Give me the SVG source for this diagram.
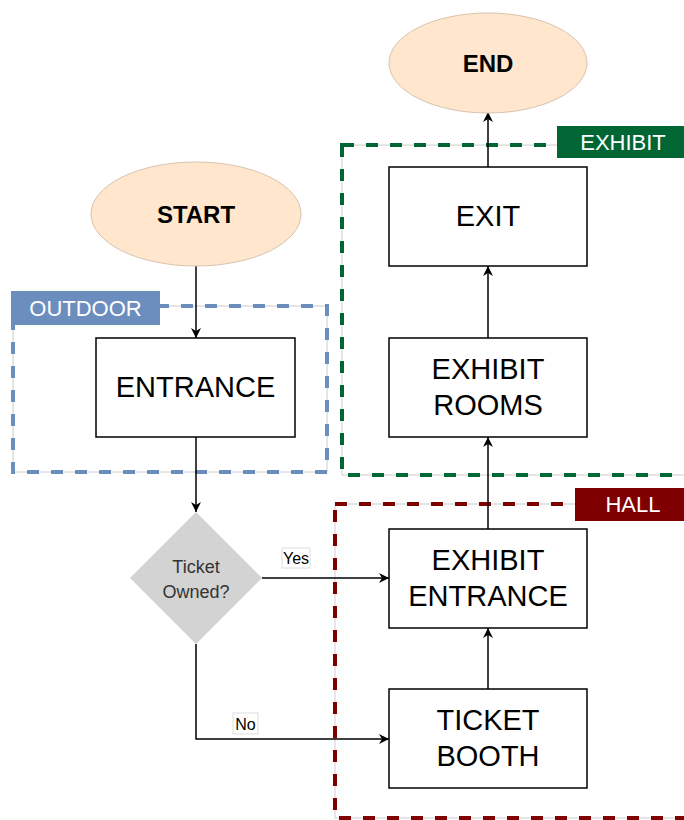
<svg xmlns="http://www.w3.org/2000/svg" width="684" height="820" viewBox="0 0 684 820">
<defs>
<marker id="arr" markerUnits="userSpaceOnUse" markerWidth="12" markerHeight="10" refX="10" refY="5" orient="auto">
<path d="M0,0 L10,5 L0,10 L3,5 z" fill="#000"/>
</marker>
<style>
.box{fill:#fff;stroke:#000;stroke-width:1.5}
.txt{font-family:"Liberation Sans",Arial,sans-serif;font-size:29px;fill:#000;text-anchor:middle}
.term{fill:#ffe6cc;stroke:#d6c4b0;stroke-width:1}
.bold{font-family:"Liberation Sans",Arial,sans-serif;font-size:24px;font-weight:bold;fill:#000;text-anchor:middle}
.edge{fill:none;stroke:#000;stroke-width:1.5;marker-end:url(#arr)}
.thin{fill:none;stroke:#cccccc;stroke-width:1}
.dash{fill:none;stroke-width:4;stroke-dasharray:12 12}
.lbl{font-family:"Liberation Sans",Arial,sans-serif;font-size:22px;fill:#fff;text-anchor:middle}
.elbl{font-family:"Liberation Sans",Arial,sans-serif;font-size:16px;fill:#000;text-anchor:middle}
</style>
</defs>
<rect width="684" height="820" fill="#fff"/>

<g id="group-outdoor">
<rect class="thin" x="13" y="306" width="314" height="166"/>
<rect class="dash" x="13" y="306" width="314" height="166" stroke="#6c8ebf"/>
<rect x="11" y="291" width="149" height="34" fill="#6c8ebf"/>
<text class="lbl" x="85.5" y="316">OUTDOOR</text>
</g>

<g id="group-exhibit">
<rect class="thin" x="342" y="145" width="360" height="330"/>
<rect class="dash" x="342" y="145" width="360" height="330" stroke="#006633"/>
<rect x="557" y="126" width="127" height="32" fill="#006633"/>
<text class="lbl" x="623" y="150">EXHIBIT</text>
</g>

<g id="group-hall">
<rect class="thin" x="335" y="504" width="367" height="314"/>
<rect class="dash" x="335" y="504" width="367" height="314" stroke="#7f0000"/>
<rect x="575" y="488" width="109" height="33" fill="#7f0000"/>
<text class="lbl" x="633" y="512">HALL</text>
</g>

<g id="connectors">
<path class="edge" d="M196,266 L196,338"/>
<path class="edge" d="M196,437 L196,512"/>
<path class="edge" d="M262,578 L389,578"/>
<path class="edge" d="M196,644 L196,739 L389,739"/>
<path class="edge" d="M488,689 L488,628"/>
<path class="edge" d="M488,529 L488,437"/>
<path class="edge" d="M488,338 L488,266"/>
<path class="edge" d="M488,167 L488,112"/>
<g id="label-yes">
<rect x="282" y="548" width="28" height="20" fill="#fff" stroke="#dddddd" stroke-width="1"/>
<text class="elbl" x="296" y="564">Yes</text>
</g>
<g id="label-no">
<rect x="233" y="713" width="25" height="21" fill="#fff" stroke="#dddddd" stroke-width="1"/>
<text class="elbl" x="245.5" y="730">No</text>
</g>
</g>

<g id="start">
<ellipse class="term" cx="196" cy="214" rx="105" ry="52"/>
<text class="bold" x="196" y="223">START</text>
</g>

<g id="end">
<ellipse class="term" cx="488" cy="63" rx="99" ry="50"/>
<text class="bold" x="488" y="72">END</text>
</g>

<g id="entrance">
<rect class="box" x="96" y="338" width="199" height="99"/>
<text class="txt" x="195.5" y="397">ENTRANCE</text>
</g>

<g id="ticket-owned">
<polygon points="196,512 262,578 196,644 130,578" fill="#d3d3d3"/>
<text font-family="Liberation Sans, Arial, sans-serif" font-size="18" fill="#333" text-anchor="middle"><tspan x="196" y="573">Ticket</tspan><tspan x="196" y="598">Owned?</tspan></text>
</g>

<g id="exit">
<rect class="box" x="389" y="167" width="198" height="99"/>
<text class="txt" x="488" y="226">EXIT</text>
</g>

<g id="exhibit-rooms">
<rect class="box" x="389" y="338" width="198" height="99"/>
<text class="txt"><tspan x="488" y="379">EXHIBIT</tspan><tspan x="488" y="415">ROOMS</tspan></text>
</g>

<g id="exhibit-entrance">
<rect class="box" x="389" y="529" width="198" height="99"/>
<text class="txt"><tspan x="488" y="570">EXHIBIT</tspan><tspan x="488" y="606">ENTRANCE</tspan></text>
</g>

<g id="ticket-booth">
<rect class="box" x="389" y="689" width="198" height="99"/>
<text class="txt"><tspan x="488" y="730">TICKET</tspan><tspan x="488" y="766">BOOTH</tspan></text>
</g>
</svg>
